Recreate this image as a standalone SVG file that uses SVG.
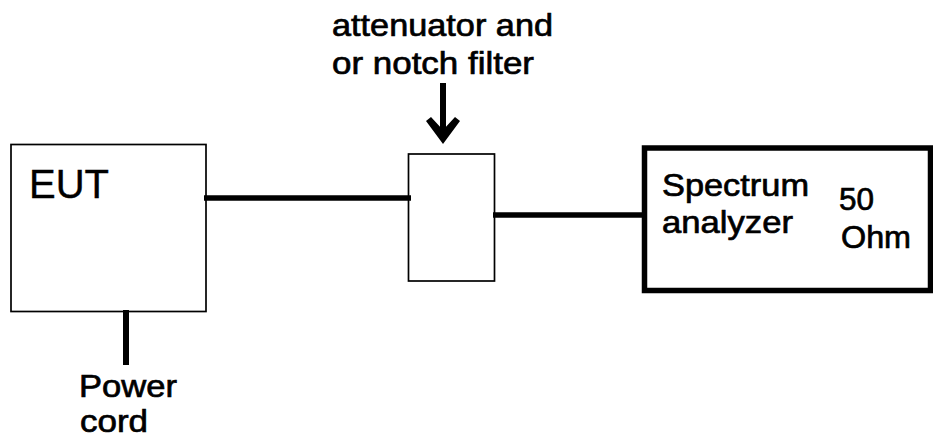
<svg xmlns="http://www.w3.org/2000/svg" width="933" height="434" viewBox="0 0 933 434">
<style>
text{font-family:"Liberation Sans",Arial,sans-serif;fill:#000;font-size:32px;stroke:#000;stroke-width:.7px}
.b{fill:#fff;stroke:#000}
.c{fill:none;stroke:#000;stroke-linecap:butt}
</style>
<rect width="933" height="434" fill="#fff"/>
<g id="eut"><rect class="b" x="11" y="144.500" width="195" height="167" stroke-width="1.700"/><text x="29" y="198" textLength="80" lengthAdjust="spacingAndGlyphs" style="font-size:41px;stroke-width:.4px">EUT</text></g>
<g id="filter"><rect class="b" x="408.500" y="154" width="86" height="127" stroke-width="1.700"/></g>
<g id="analyzer"><rect class="b" x="644.500" y="148" width="286" height="142.500" stroke-width="5.500"/>
<text x="662" y="196" textLength="147" lengthAdjust="spacingAndGlyphs">Spectrum</text><text x="662" y="233" textLength="131" lengthAdjust="spacingAndGlyphs">analyzer</text><text x="839" y="210" textLength="35" lengthAdjust="spacingAndGlyphs">50</text><text x="841" y="248" textLength="70" lengthAdjust="spacingAndGlyphs">Ohm</text></g>
<g id="connectors">
<path class="c" stroke-width="5.500" d="M204 198H411"/>
<path class="c" stroke-width="5.500" d="M493 215H643"/>
<path class="c" stroke-width="6" d="M126 310V365"/>
<path class="c" stroke-width="6" d="M443 83V138"/>
<path d="M426 121L431 117L443 130L455 117L460 121L443 144Z" fill="#000"/>
</g>
<g id="labels"><text x="332" y="36" textLength="221" lengthAdjust="spacingAndGlyphs">attenuator and</text><text x="332" y="74" textLength="202" lengthAdjust="spacingAndGlyphs">or notch filter</text><text x="79" y="397" textLength="98" lengthAdjust="spacingAndGlyphs">Power</text><text x="80" y="432" textLength="68" lengthAdjust="spacingAndGlyphs">cord</text></g>
</svg>
